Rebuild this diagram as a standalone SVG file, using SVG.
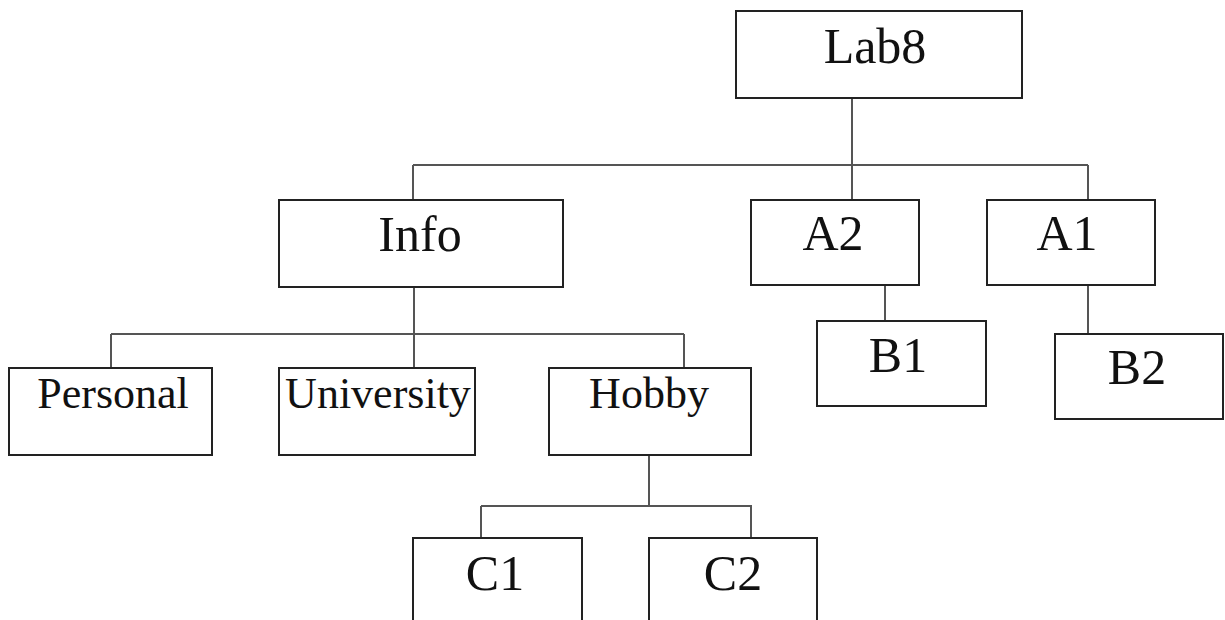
<svg xmlns="http://www.w3.org/2000/svg" width="1225" height="620" viewBox="0 0 1225 620">
<style>
.box{fill:#fff;stroke:#222;stroke-width:2}
.lbl{font-family:"Liberation Serif","Times New Roman",serif;fill:#111;text-anchor:middle}
.big{font-size:50px}
.mid{font-size:44px}
.conn{fill:none;stroke:#555;stroke-width:2}
</style>
<rect width="1225" height="620" fill="#fff"/>
<g id="connectors">
<path class="conn" d="M852 98V200M413 165H1088M413 165V200M1088 165V200"/>
<path class="conn" d="M414 287V368M111 334H684M111 334V368M684 334V368"/>
<path class="conn" d="M885 285V321M1088 285V334"/>
<path class="conn" d="M649 455V506M481 506H752M481 506V538M751 506V538"/>
</g>
<g id="lab8"><rect class="box" x="736" y="11" width="286" height="87"/><text class="lbl big" x="875" y="63">Lab8</text></g>
<g id="info"><rect class="box" x="279" y="200" width="284" height="87"/><text class="lbl big" x="420" y="251">Info</text></g>
<g id="a2"><rect class="box" x="751" y="200" width="168" height="85"/><text class="lbl big" x="833" y="250">A2</text></g>
<g id="a1"><rect class="box" x="987" y="200" width="168" height="85"/><text class="lbl big" x="1067" y="250">A1</text></g>
<g id="b1"><rect class="box" x="817" y="321" width="169" height="85"/><text class="lbl big" x="898" y="372">B1</text></g>
<g id="b2"><rect class="box" x="1055" y="334" width="168" height="85"/><text class="lbl big" x="1137" y="384">B2</text></g>
<g id="personal"><rect class="box" x="9" y="368" width="203" height="87"/><text class="lbl mid" x="113" y="408">Personal</text></g>
<g id="university"><rect class="box" x="279" y="368" width="196" height="87"/><text class="lbl mid" x="378" y="408">University</text></g>
<g id="hobby"><rect class="box" x="549" y="368" width="202" height="87"/><text class="lbl mid" x="649" y="408">Hobby</text></g>
<g id="c1"><rect class="box" x="413" y="538" width="169" height="100"/><text class="lbl big" x="495" y="590">C1</text></g>
<g id="c2"><rect class="box" x="649" y="538" width="168" height="100"/><text class="lbl big" x="733" y="590">C2</text></g>
</svg>
